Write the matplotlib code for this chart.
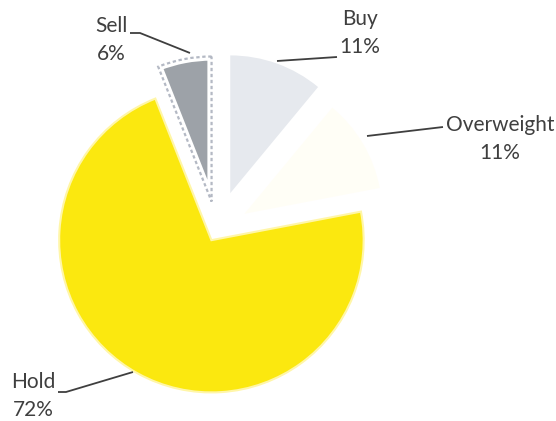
import matplotlib
matplotlib.use("Agg")
import matplotlib.pyplot as plt
from matplotlib.patches import Wedge

# Rating distribution
categories = ["Buy", "Overweight", "Hold", "Sell"]
shares = [11, 11, 72, 6]
colors = ["#e6e9ee", "#fffef6", "#fbe80f", "#9da2a8"]
explode = [0.27, 0.22, 0.08, 0.20]   # fraction of the radius

W, H = 556, 421
fig = plt.figure(figsize=(W / 100, H / 100), dpi=100)
ax = fig.add_axes([0, 0, 1, 1])

R = 145
wedges, _ = ax.pie(shares, colors=colors, explode=[e * R for e in explode],
                   startangle=90, counterclock=False, radius=R,
                   center=(217, H - 230), wedgeprops=dict(linewidth=0),
                   frame=True)
ax.set_xlim(0, W)
ax.set_ylim(0, H)
ax.set_aspect("equal")
ax.axis("off")

# per-slice radius tweaks
for w, s in zip(wedges, [0.95, 0.95, 1.05, 1.0]):
    w.set_radius(R * s)

# Hold slice with a pale rim
hold = wedges[2]
hold.set_edgecolor("#fff6a8")
hold.set_linewidth(1.5)

# Sell slice: white band with dotted outline
sell = wedges[3]
rim = Wedge(sell.center, sell.r, sell.theta1, sell.theta2, facecolor="none",
            edgecolor="white", linewidth=6, zorder=sell.get_zorder() + 0.1)
ax.add_patch(rim)
dots = Wedge(sell.center, sell.r, sell.theta1, sell.theta2, facecolor="none",
             edgecolor="#b4b9c4", linewidth=1.6, linestyle=(0, (1.5, 1.2)),
             zorder=sell.get_zorder() + 0.2)
ax.add_patch(dots)

txt = "#3f3f3f"
font = dict(family="Lato", fontsize=15, color=txt, ha="center", va="center",
            linespacing=1.45)

labels = [f"{c}\n{v}%" for c, v in zip(categories, shares)]
label_pos = [(360, 33), (500, 139), (33, 396), (111, 40)]
for lab, (x, y) in zip(labels, label_pos):
    ax.text(x, H - y, lab, **font)

# Leader lines
leaders = [
    [(277, 61), (337, 57)],
    [(367, 136), (443, 127)],
    [(58, 392), (66, 392), (133, 372)],
    [(130, 33), (140, 33), (190, 53)],
]
for pts in leaders:
    xs = [p[0] for p in pts]
    ys = [H - p[1] for p in pts]
    ax.plot(xs, ys, color="#3f3f3f", linewidth=1.3, solid_capstyle="butt")

fig.savefig("out.png", dpi=100, facecolor="white")
